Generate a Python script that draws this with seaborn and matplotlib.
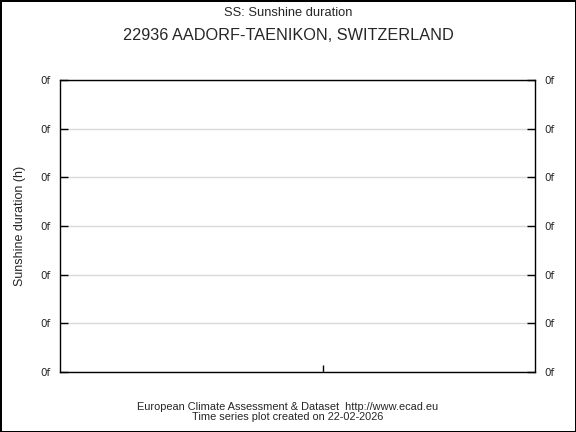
import numpy as np
import pandas as pd
import matplotlib
matplotlib.use("Agg")
import matplotlib.pyplot as plt
import seaborn as sns

# Data (the station has no values in the series)
years = []
sunshine = []
ytick_pos = [0, 1, 2, 3, 4, 5, 6]
ytick_labels = ["0f", "0f", "0f", "0f", "0f", "0f", "0f"]
xtick_pos = [0.554]

title_top = "SS: Sunshine duration"
title_main = "22936 AADORF-TAENIKON, SWITZERLAND"
ylabel = "Sunshine duration (h)"
footer = "European Climate Assessment & Dataset  http://www.ecad.eu\nTime series plot created on 22-02-2026"

sns.set_style("white")
plt.rcParams["font.family"] = ["Liberation Sans", "DejaVu Sans"]

fig = plt.figure(figsize=(5.76, 4.32), dpi=100)
fig.patch.set_edgecolor("black")
fig.patch.set_linewidth(2)
ax = fig.add_axes([60 / 576, 1 - 372 / 432, 475 / 576, 292 / 432])

df = pd.DataFrame({"year": pd.Series(years, dtype=float), "value": pd.Series(sunshine, dtype=float)})
ax.plot(df["year"], df["value"], color="black")

ax.set_xlim(0, 1)
ax.set_ylim(ytick_pos[0], ytick_pos[-1])
ax.set_yticks(ytick_pos)
ax.set_yticklabels(ytick_labels, fontsize=7.5, family="DejaVu Sans")
ax.set_xticks(xtick_pos)
ax.set_xticklabels([])
ax.yaxis.grid(True, color="#d9d9d9", linewidth=1)
ax.set_axisbelow(True)
ax.tick_params(axis="y", direction="in", length=6, width=1, color="black",
               left=True, right=True, labelleft=True, labelright=True, pad=7)
ax.tick_params(axis="x", direction="in", length=5, width=1, color="black", bottom=True)
for s in ax.spines.values():
    s.set_color("black")
    s.set_linewidth(1)

ax.set_ylabel(ylabel, fontsize=9)
ax.yaxis.set_label_coords(-0.071, 0.5)

fig.text(0.5, 1 - 13 / 432, title_top, ha="center", va="center", fontsize=9.3)
fig.text(0.5, 1 - 36 / 432, title_main, ha="center", va="center", fontsize=11.7)
fig.text(0.5, 1 - 412 / 432, footer, ha="center", va="center", fontsize=7.9, linespacing=1.05)

fig.savefig("out.png", dpi=100)
